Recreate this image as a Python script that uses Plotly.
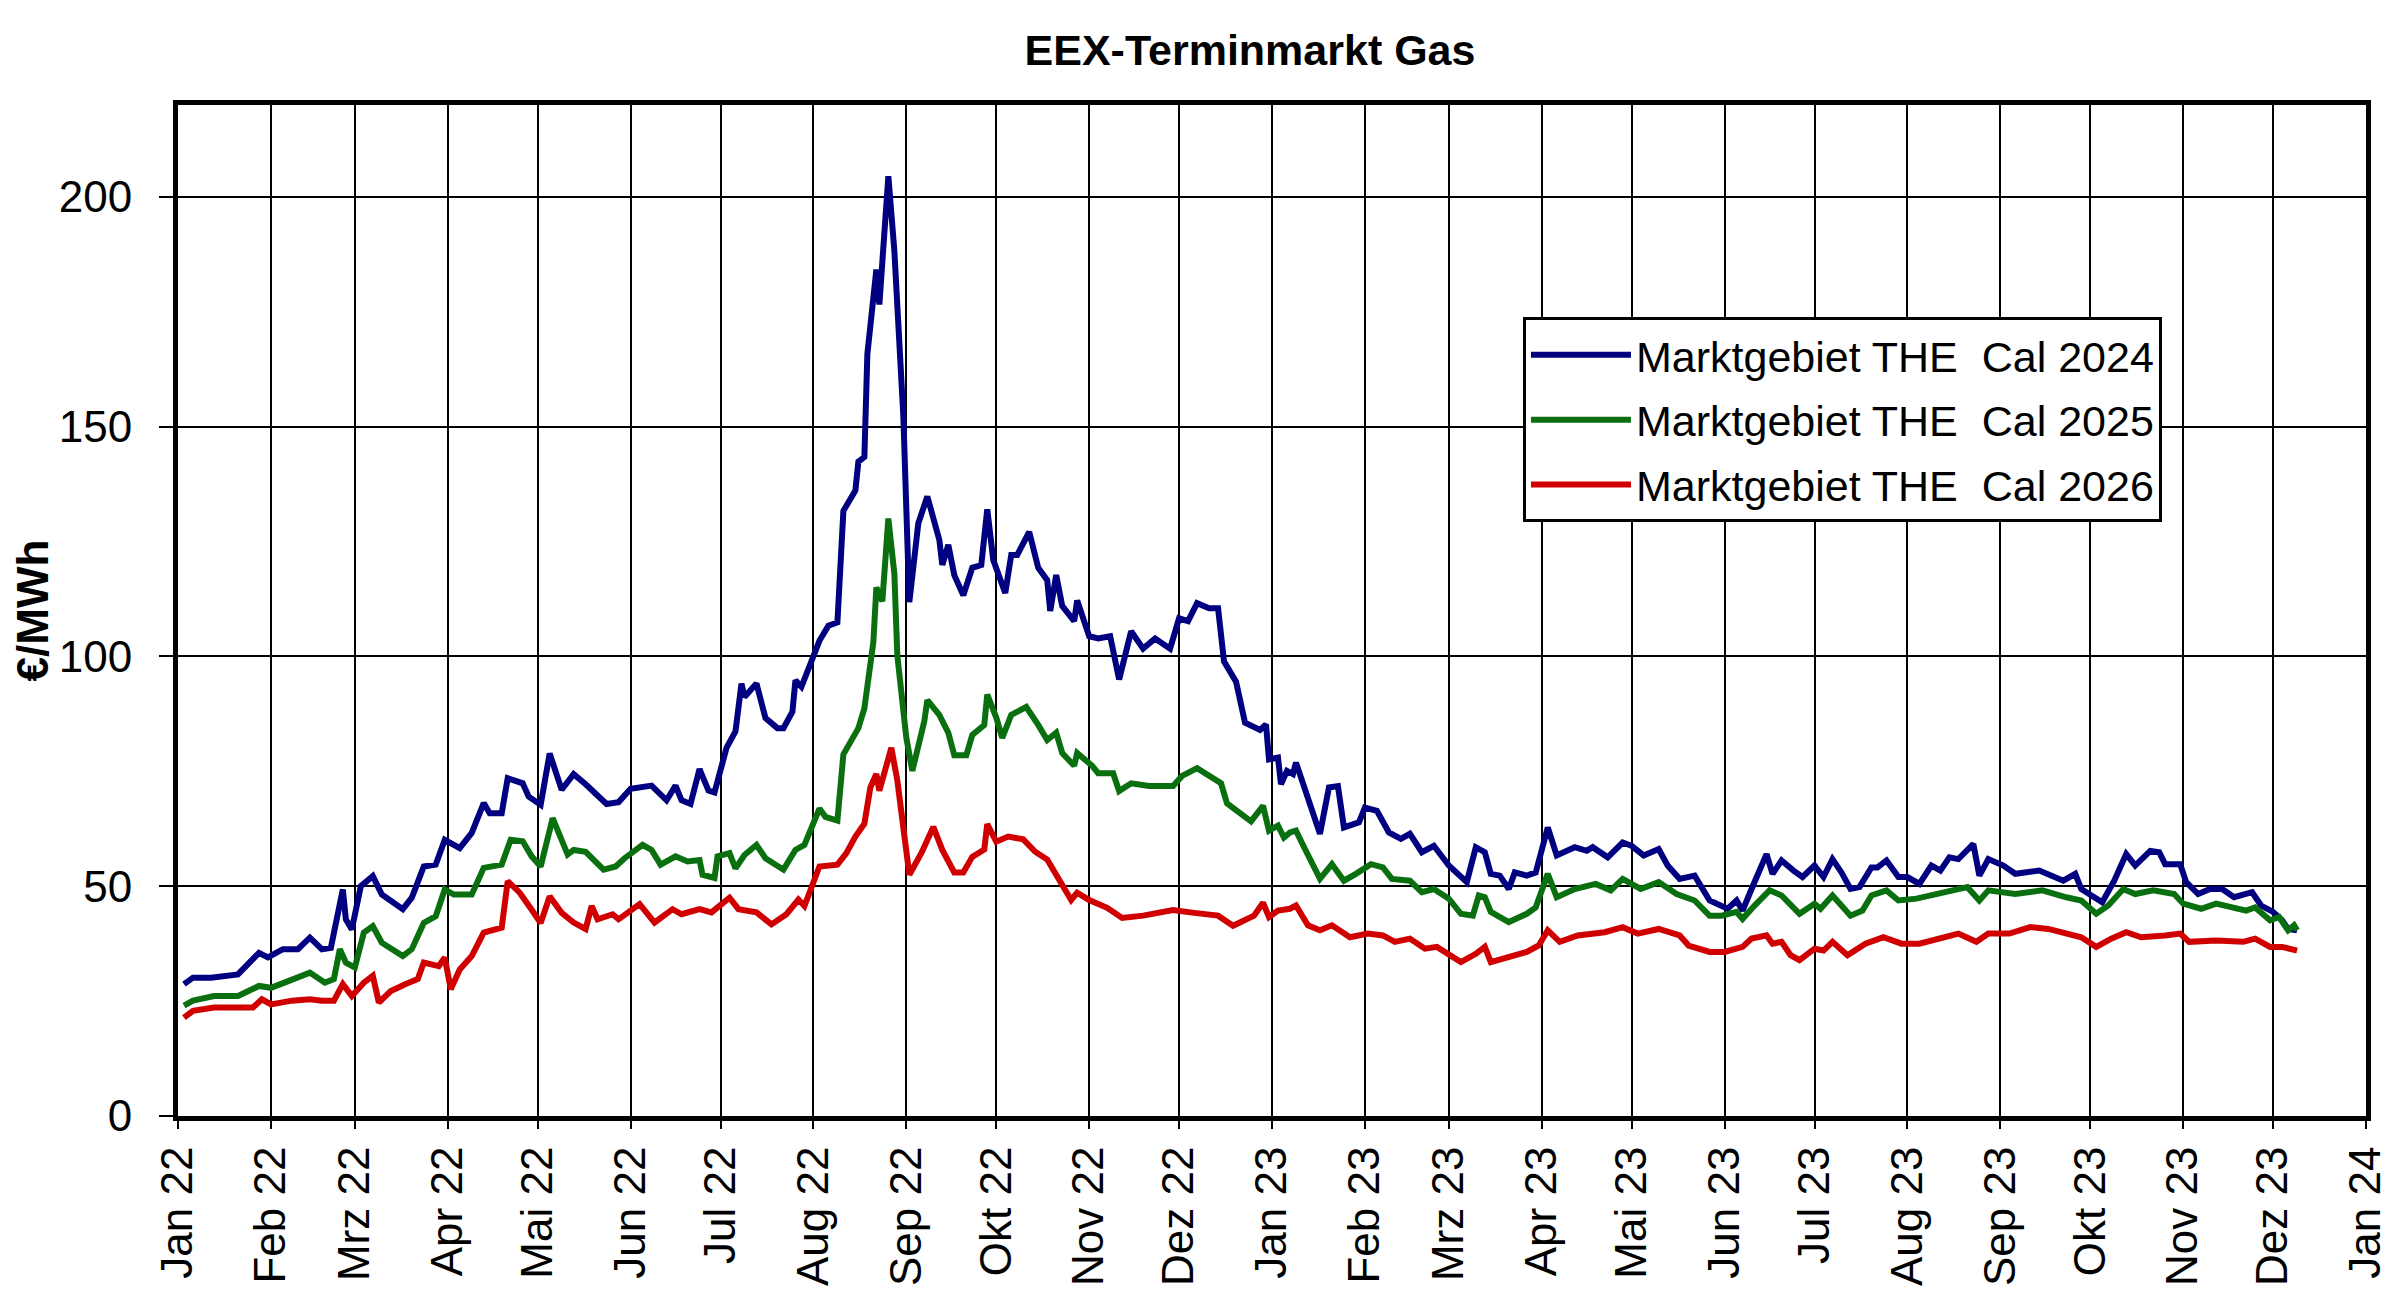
import pandas as pd
import plotly.graph_objects as go

# Trading days are given as day offsets from 1 Jan 2022, prices in EUR/MWh
start = pd.Timestamp("2022-01-01")

days_cal24 = [2, 5, 11, 20, 27, 30, 35, 40, 44, 48, 51, 55, 56, 58, 61, 65, 68, 75, 78, 82,
              86, 89, 94, 98, 102, 104, 108, 110, 115, 117, 121, 124, 128, 132, 136, 143, 147, 151, 158, 163,
              166, 168, 171, 174, 177, 179, 183, 186, 188, 189, 193, 196, 200, 202, 205, 206, 208, 214, 217, 220,
              222, 226, 227, 229, 230, 232, 233, 234, 235, 237, 239, 242, 244, 247, 250, 254, 255, 257, 259, 262,
              265, 268, 270, 272, 276, 278, 280, 284, 287, 290, 291, 293, 295, 299, 300, 304, 307, 311, 314, 318,
              322, 326, 331, 334, 337, 340, 344, 347, 349, 353, 356, 361, 363, 364, 367, 368, 370, 372, 373, 376,
              381, 384, 387, 389, 394, 396, 400, 404, 408, 411, 415, 419, 424, 430, 433, 436, 438, 441, 444, 446,
              450, 453, 457, 460, 466, 470, 472, 477, 482, 485, 489, 494, 497, 501, 506, 511, 515, 517, 520, 522,
              525, 530, 532, 535, 539, 542, 546, 549, 552, 555, 558, 561, 565, 567, 570, 574, 577, 581, 585, 588,
              591, 594, 599, 601, 604, 609, 613, 621, 629, 633, 635, 642, 646, 650, 653, 658, 661, 663, 668, 670,
              674, 678, 682, 686, 692, 695, 699, 702, 704, 707]
price_cal24 = [28.7, 30.1, 30.1, 30.8, 35.5, 34.5, 36.3, 36.3, 38.8, 36.3, 36.6, 49.3, 42.8, 40.6, 50.0, 52.2, 48.2, 45.0, 47.5, 54.3,
               54.7, 60.1, 58.3, 61.6, 68.1, 65.9, 65.9, 73.5, 72.4, 69.5, 67.7, 78.9, 71.0, 74.4, 72.2, 67.9, 68.3, 71.2, 71.9, 68.7,
               71.9, 68.7, 67.9, 75.5, 70.8, 70.4, 80.1, 83.7, 94.1, 91.2, 94.1, 86.6, 84.4, 84.4, 88.0, 94.8, 93.4, 103.4, 106.7, 107.4,
               131.7, 136.1, 142.4, 143.4, 165.8, 176.6, 184.2, 176.6, 184.7, 204.5, 188.3, 152.3, 111.8, 129.0, 134.8, 125.4, 119.9, 124.3, 117.7, 113.3,
               119.3, 119.9, 132.0, 121.0, 113.8, 122.1, 122.1, 127.1, 119.3, 116.6, 109.9, 117.7, 111.0, 107.7, 112.2, 104.4, 103.9, 104.4, 95.0, 105.5,
               101.7, 103.9, 101.7, 108.3, 107.7, 111.6, 110.5, 110.5, 98.9, 94.5, 85.6, 84.0, 85.2, 77.6, 78.0, 72.2, 75.1, 74.4, 76.9, 71.1,
               61.4, 71.5, 71.8, 62.8, 63.9, 67.1, 66.4, 61.7, 60.3, 61.4, 57.4, 58.8, 54.5, 50.9, 58.5, 57.4, 52.7, 52.3, 49.4, 53.0,
               52.3, 53.0, 62.8, 56.7, 58.5, 57.7, 58.5, 56.3, 59.5, 58.8, 56.7, 58.1, 54.5, 51.6, 52.3, 46.9, 45.8, 45.1, 46.9, 44.7,
               49.4, 57.0, 52.7, 55.6, 53.4, 52.0, 54.5, 52.0, 55.9, 53.0, 49.4, 49.8, 54.1, 54.1, 55.6, 52.0, 52.0, 50.5, 54.5, 53.4,
               56.3, 55.9, 59.2, 52.3, 55.9, 54.5, 52.7, 53.4, 51.2, 52.7, 49.4, 46.5, 51.2, 57.0, 54.5, 57.7, 57.4, 54.8, 54.8, 50.9,
               48.3, 49.4, 49.4, 47.6, 48.7, 45.8, 44.4, 42.6, 40.7, 40.4]

days_cal25 = [2, 5, 12, 20, 27, 31, 37, 44, 49, 52, 54, 56, 59, 62, 65, 68, 75, 78, 82, 86,
              89, 92, 98, 102, 108, 111, 115, 118, 121, 125, 130, 132, 136, 142, 146, 149, 155, 158, 161, 166,
              170, 174, 175, 179, 180, 184, 186, 189, 193, 196, 202, 206, 209, 214, 216, 220, 222, 227, 229, 232,
              233, 235, 237, 239, 240, 243, 245, 247, 249, 250, 254, 257, 259, 263, 265, 269, 270, 273, 275, 278,
              283, 287, 290, 293, 295, 299, 300, 305, 307, 312, 314, 318, 324, 332, 335, 340, 344, 348, 350, 355,
              358, 362, 364, 367, 369, 371, 373, 376, 381, 385, 389, 393, 398, 402, 405, 411, 415, 419, 424, 428,
              432, 434, 436, 438, 444, 450, 453, 457, 460, 466, 473, 478, 482, 488, 494, 500, 506, 511, 515, 520,
              522, 526, 531, 535, 541, 546, 548, 552, 558, 562, 565, 570, 574, 580, 585, 591, 597, 601, 604, 613,
              622, 630, 635, 640, 644, 649, 653, 659, 666, 669, 675, 680, 685, 690, 693, 698, 701, 704, 706, 707]
price_cal25 = [24.0, 25.1, 26.1, 26.1, 28.3, 27.9, 29.4, 31.2, 29.0, 29.8, 36.3, 33.4, 32.3, 39.9, 41.3, 37.7, 34.8, 36.3, 42.0, 43.5,
               49.3, 48.2, 48.2, 54.0, 54.7, 60.1, 59.8, 56.5, 54.3, 64.8, 56.9, 57.9, 57.5, 53.6, 54.3, 56.1, 59.0, 57.9, 54.7, 56.5,
               55.4, 55.7, 52.5, 51.8, 56.5, 57.2, 53.9, 56.8, 59.0, 56.1, 53.6, 57.9, 59.0, 66.9, 65.1, 64.3, 78.7, 84.4, 88.7, 103.1,
               115.0, 112.0, 130.0, 118.0, 100.2, 82.3, 75.1, 80.1, 85.9, 90.5, 87.3, 83.4, 78.5, 78.5, 82.9, 85.1, 91.7, 86.7, 82.3, 87.3,
               89.0, 85.1, 81.8, 83.4, 79.0, 76.2, 79.0, 76.2, 74.6, 74.6, 70.7, 72.4, 71.8, 71.8, 74.0, 75.7, 74.0, 72.4, 68.0, 65.7,
               64.1, 67.5, 62.1, 63.2, 60.6, 61.7, 62.1, 58.1, 51.6, 54.8, 51.2, 52.7, 54.8, 54.1, 51.6, 51.2, 48.7, 49.4, 47.3, 44.0,
               43.6, 48.0, 47.6, 44.4, 42.2, 44.0, 45.4, 52.7, 47.6, 49.4, 50.5, 49.1, 51.6, 49.4, 50.9, 48.3, 46.9, 43.6, 43.6, 44.4,
               42.9, 45.8, 49.1, 48.0, 44.0, 46.2, 45.1, 48.0, 43.6, 44.7, 48.0, 49.1, 46.9, 47.3, 48.0, 49.1, 49.8, 46.9, 49.1, 48.3,
               49.1, 47.6, 46.9, 44.0, 45.8, 49.4, 48.3, 49.1, 48.3, 46.2, 45.1, 46.2, 45.4, 44.7, 45.4, 42.6, 43.3, 40.4, 41.5, 40.4]

days_cal26 = [2, 5, 12, 25, 28, 31, 38, 44, 48, 52, 55, 58, 62, 65, 67, 71, 76, 80, 82, 87,
              89, 91, 94, 98, 102, 108, 110, 114, 118, 121, 124, 128, 132, 136, 138, 140, 145, 147, 154, 159,
              165, 168, 174, 178, 184, 187, 193, 198, 203, 207, 209, 212, 214, 220, 223, 226, 229, 231, 233, 234,
              236, 238, 240, 243, 244, 248, 252, 255, 259, 262, 265, 269, 270, 273, 277, 282, 286, 290, 294, 298,
              300, 304, 310, 315, 322, 332, 339, 347, 352, 359, 362, 364, 367, 371, 373, 377, 381, 385, 391, 397,
              402, 406, 411, 416, 420, 424, 428, 433, 436, 438, 444, 450, 454, 457, 461, 467, 476, 482, 487, 494,
              501, 504, 511, 516, 522, 525, 530, 532, 535, 538, 541, 546, 549, 552, 557, 563, 569, 575, 581, 588,
              594, 600, 604, 611, 618, 624, 630, 635, 640, 645, 650, 655, 663, 668, 671, 680, 689, 693, 698, 702,
              707]
price_cal26 = [21.4, 22.9, 23.6, 23.6, 25.4, 24.3, 25.1, 25.4, 25.1, 25.1, 28.7, 26.1, 29.0, 30.5, 24.7, 27.2, 28.7, 29.8, 33.4, 32.6,
               34.5, 27.6, 31.9, 34.8, 39.9, 41.0, 51.1, 48.6, 44.9, 42.0, 47.8, 44.2, 42.1, 40.7, 45.7, 42.8, 43.9, 42.8, 46.1, 42.1,
               45.0, 43.9, 45.0, 44.3, 47.5, 45.0, 44.3, 41.7, 43.9, 47.1, 45.7, 50.7, 54.3, 54.7, 57.2, 60.8, 63.6, 71.5, 74.4, 70.8,
               75.8, 80.1, 73.0, 57.9, 52.5, 57.2, 62.9, 57.9, 53.0, 53.0, 56.4, 58.0, 63.5, 59.7, 60.8, 60.2, 57.5, 55.8, 51.4, 47.0,
               48.6, 47.0, 45.3, 43.1, 43.6, 44.8, 44.2, 43.6, 41.4, 43.6, 46.4, 43.3, 44.7, 45.1, 45.8, 41.5, 40.4, 41.5, 38.9, 39.7,
               39.3, 37.9, 38.6, 36.4, 36.8, 35.0, 33.5, 35.3, 36.8, 33.5, 34.6, 35.7, 37.1, 40.4, 37.9, 39.3, 40.0, 41.1, 39.7, 40.7,
               39.3, 37.1, 35.7, 35.7, 36.8, 38.6, 39.3, 37.5, 37.9, 35.0, 33.9, 36.4, 36.0, 37.9, 35.0, 37.5, 38.9, 37.5, 37.5, 38.6,
               39.7, 37.9, 39.7, 39.7, 41.1, 40.7, 39.7, 38.9, 36.8, 38.6, 40.0, 38.9, 39.3, 39.7, 37.9, 38.2, 37.9, 38.6, 36.8, 36.8,
               36.0]

series_names = ["Marktgebiet THE\u00a0 Cal 2024", "Marktgebiet THE\u00a0 Cal 2025", "Marktgebiet THE\u00a0 Cal 2026"]
series_colors = ["#000080", "#0a700f", "#d00000"]

month_names = ["Jan", "Feb", "Mrz", "Apr", "Mai", "Jun", "Jul", "Aug", "Sep", "Okt", "Nov", "Dez"]
y_ticks = [0, 50, 100, 150, 200]


def to_dates(days):
    return start + pd.to_timedelta(days, unit="D")


month_starts = pd.date_range("2022-01-01", "2024-01-01", freq="MS")
month_text = [month_names[d.month - 1] + " " + d.strftime("%y") for d in month_starts]

fig = go.Figure()
for i, (days, prices) in enumerate([(days_cal24, price_cal24),
                                    (days_cal25, price_cal25),
                                    (days_cal26, price_cal26)]):
    fig.add_trace(go.Scatter(x=to_dates(days), y=prices, mode="lines",
                             name=series_names[i], legendgroup=str(i),
                             line=dict(color=series_colors[i], width=6)))

fig.update_layout(
    width=2400, height=1301,
    margin=dict(l=170, r=42, t=97, b=193),
    plot_bgcolor="white", paper_bgcolor="white",
    font=dict(family="Liberation Sans, Arial, sans-serif", size=43, color="black"),
    title=dict(text="<b>EEX-Terminmarkt Gas</b>", x=0.5175, xanchor="center",
               y=1 - 42 / 1301, yanchor="middle", font=dict(size=43)),
    legend=dict(x=0.6147, y=0.79, xanchor="left", yanchor="top",
                bgcolor="white", bordercolor="black", borderwidth=3,
                font=dict(size=43), tracegroupgap=6, itemwidth=100),
    showlegend=True,
)

fig.update_xaxes(type="date", range=[start, pd.Timestamp("2024-01-01")],
                 tickvals=month_starts, ticktext=month_text, tickangle=-90,
                 showgrid=True, gridcolor="black", gridwidth=1.5,
                 showline=True, linecolor="black", linewidth=5, mirror=True,
                 ticks="outside", ticklen=8, tickwidth=2, tickcolor="black",
                 tickfont=dict(size=44))

fig.update_yaxes(range=[0, 220], tickvals=y_ticks,
                 showgrid=True, gridcolor="black", gridwidth=1.5, zeroline=False,
                 showline=True, linecolor="black", linewidth=5, mirror=True,
                 ticks="outside", ticklen=14, tickwidth=2, tickcolor="black",
                 ticklabelstandoff=18, tickfont=dict(size=44),
                 title=dict(text="<b>€/MWh</b>", font=dict(size=44), standoff=6))

fig.write_html("out.html")
